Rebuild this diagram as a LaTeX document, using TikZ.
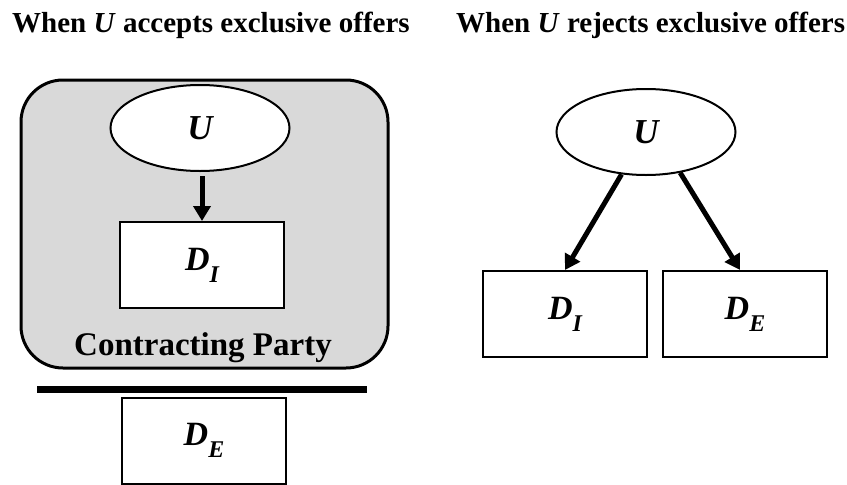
\documentclass[tikz,border=0pt]{standalone}
\usepackage{fontspec}
\setmainfont{Liberation Serif}
\usetikzlibrary{shapes.geometric,arrows.meta}
\definecolor{partygray}{RGB}{217,217,217}
\newcommand\mysub[1]{\raisebox{-12pt}{\fontsize{24}{24}\selectfont #1}}
\begin{document}
\begin{tikzpicture}[x=1pt,y=-1pt,
  titletext/.style={anchor=base west, inner sep=0, font=\bfseries\fontsize{29}{29}\selectfont},
  firmbox/.style={draw, line width=2pt, fill=white, minimum width=164pt, minimum height=86pt, inner sep=0, font=\bfseries\itshape\fontsize{34}{34}\selectfont},
  upnode/.style={ellipse, draw, line width=2pt, fill=white, minimum width=179pt, minimum height=86pt, inner sep=0, font=\bfseries\itshape\fontsize{35}{35}\selectfont},
  arr/.style={line width=5pt, -{Triangle[length=15pt,width=17pt]}}]
\useasboundingbox (0,0) rectangle (847,485);
% titles
\node[titletext] (t1) at (12,32) {When \textit{U} accepts exclusive offers};
\node[titletext] (t2) at (456,32) {When \textit{U} rejects exclusive offers};
% contracting party container
\node[draw, line width=3pt, fill=partygray, rounded corners=42pt, minimum width=367pt, minimum height=288pt, inner sep=0] (cp) at (204.5,224) {};
\node[anchor=base, inner sep=0, font=\bfseries\fontsize{33}{33}\selectfont] (cpl) at (203,355) {Contracting Party};
\node[upnode] (u1) at (200,128) {U};
\node[firmbox] (di1) at (202,265) {D\mysub{I}};
\draw[arr, shorten <=4pt] (di1.north |- u1.south) -- (di1.north);
% bar and excluded entrant
\draw[line width=7pt] (37,389) -- (367,389);
\node[firmbox] (de1) at (204,440.5) {D\mysub{E}};
% right panel
\node[upnode] (u2) at (646,132) {U};
\node[firmbox] (di2) at (565,314) {D\mysub{I}};
\node[firmbox] (de2) at (745,314) {D\mysub{E}};
\draw[arr] (u2.-120) -- (di2.north);
\draw[arr] (u2.-50) -- ([xshift=-5pt]de2.north);
\end{tikzpicture}
\end{document}
